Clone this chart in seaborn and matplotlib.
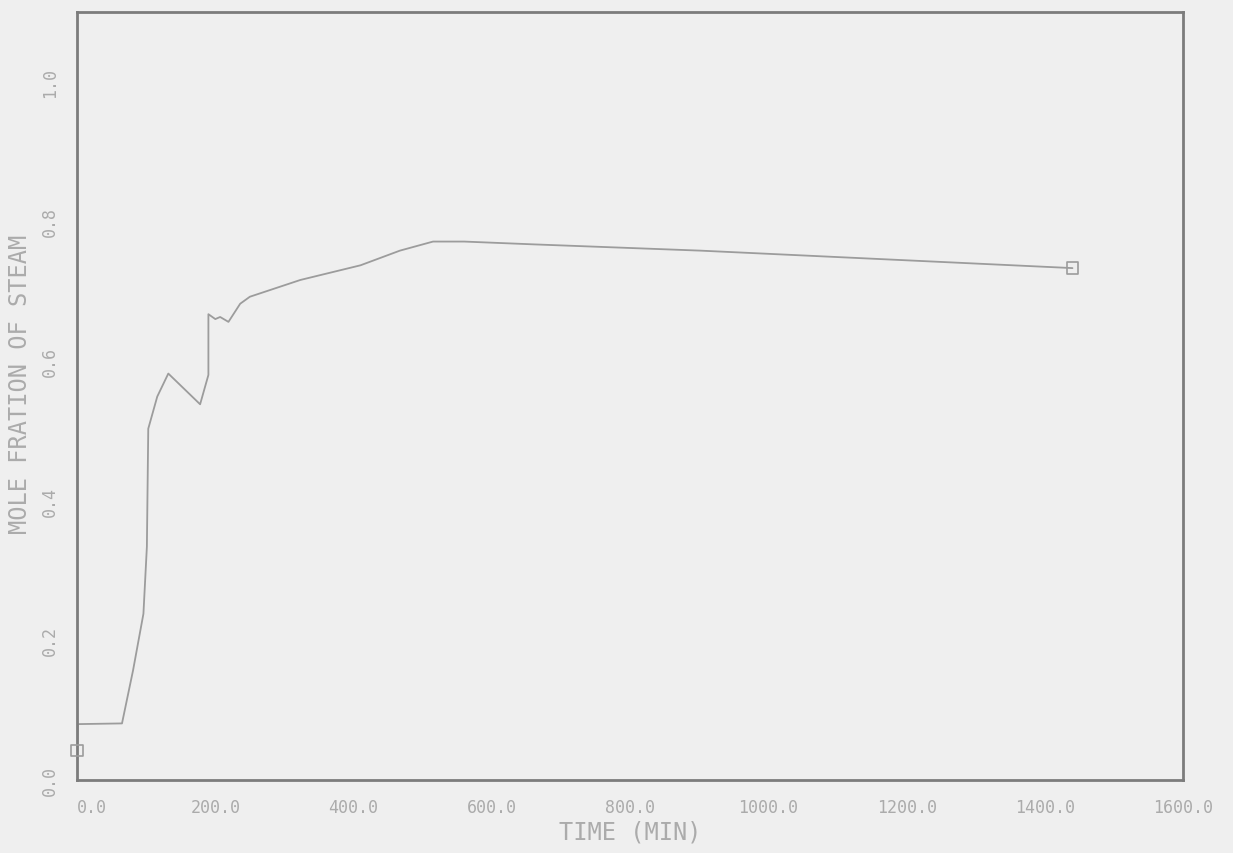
import matplotlib
matplotlib.use("Agg")
import matplotlib.pyplot as plt
import seaborn as sns
import pandas as pd

# Data
time_min = [0, 1, 65, 81, 96, 101, 103, 116, 132, 178, 190, 190, 200, 207, 219,
            236, 250, 323, 410, 467, 515, 560, 660, 902, 1440]
steam_frac = [0.042, 0.080, 0.081, 0.157, 0.238, 0.334, 0.503, 0.549, 0.582, 0.538,
              0.580, 0.667, 0.660, 0.663, 0.656, 0.682, 0.692, 0.716, 0.737, 0.758,
              0.771, 0.771, 0.767, 0.758, 0.733]
marker_time = [0, 1440]
marker_frac = [0.042, 0.733]

x_ticks = [0, 200, 400, 600, 800, 1000, 1200, 1400, 1600]
y_ticks = [0.0, 0.2, 0.4, 0.6, 0.8, 1.0]

df = pd.DataFrame({"t": time_min, "f": steam_frac})
dm = pd.DataFrame({"t": marker_time, "f": marker_frac})

bg = "#efefef"
text_c = "#ababab"
frame_c = "#7c7c7c"
line_c = "#9c9c9c"

sns.set_style("white")
plt.rcParams["font.family"] = ["DejaVu Sans Mono", "DejaVu Sans"]

fig = plt.figure(figsize=(12.33, 8.54), dpi=100, facecolor=bg)
ax = fig.add_axes([0.0625, 0.0855, 0.897, 0.8995])
ax.set_facecolor(bg)

sns.lineplot(data=df, x="t", y="f", ax=ax, sort=False, estimator=None,
             color=line_c, linewidth=1.3)
sns.scatterplot(data=dm, x="t", y="f", ax=ax, marker="s", s=70,
                facecolor="none", edgecolor=line_c, linewidth=1.2, zorder=5)
for coll in ax.collections:
    coll.set_clip_on(False)

ax.set_xlim(0, 1600)
ax.set_ylim(0, 1.1)
ax.set_xticks(x_ticks)
ax.set_xticklabels([f"{v:.1f}" for v in x_ticks], fontsize=12, color=text_c)
ax.get_xticklabels()[0].set_ha("left")
ax.set_yticks(y_ticks)
ax.set_yticklabels([f"{v:.1f}" for v in y_ticks], fontsize=12, color=text_c,
                   rotation=90, va="center")
ax.tick_params(axis="both", direction="out", length=5, width=1, color=frame_c, pad=8)
ax.tick_params(axis="y", pad=8)

for sp in ax.spines.values():
    sp.set_visible(True)
    sp.set_color(frame_c)
    sp.set_linewidth(2)

ax.set_xlabel("TIME (MIN)", fontsize=17, color=text_c)
ax.xaxis.set_label_coords(0.5, -0.052)
ax.set_ylabel("MOLE FRATION OF STEAM", fontsize=17, color=text_c)
ax.yaxis.set_label_coords(-0.041, 0.516)

fig.savefig("out.png", dpi=100, facecolor=bg)
